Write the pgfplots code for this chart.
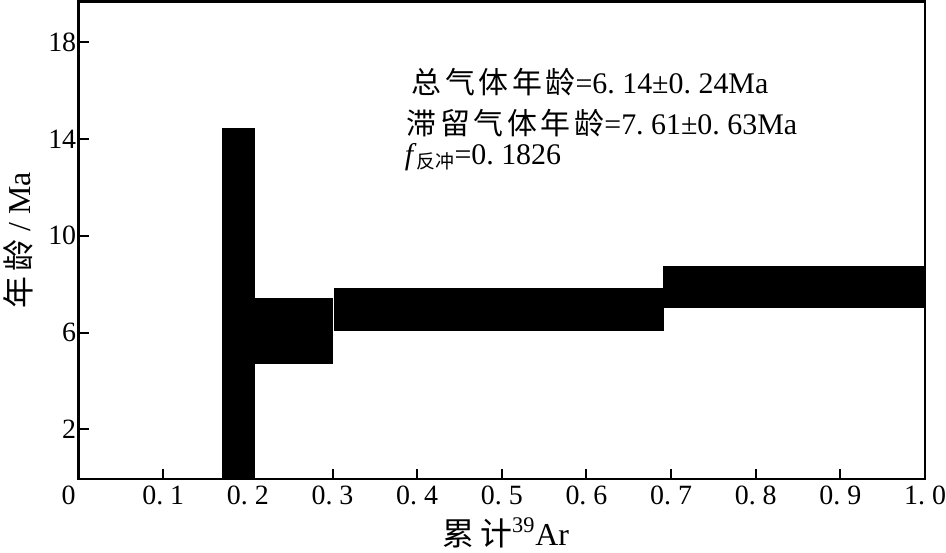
\documentclass[border=0pt]{standalone}
\usepackage{fontspec}
\setmainfont{Liberation Serif}
\newfontfamily\cjk{Noto Sans CJK SC}
\newfontfamily\cjkw[LetterSpace=12]{Noto Sans CJK SC}
\usepackage{pgfplots}
\pgfplotsset{compat=1.18}

\begin{document}
\begin{tikzpicture}
\begin{axis}[
  scale only axis,
  width=424.5pt, height=239.5pt,
  xmin=0, xmax=1, ymin=-0.05, ymax=19.7,
  axis line style={line width=1.3pt},
  tick style={line width=1pt, black},
  major tick length=5pt,
  tick align=inside,
  tick pos=left,
  xtick={0,0.1,...,1.0},
  xticklabels={\llap{0\hspace{1.5pt}},0.\ 1,0.\ 2,0.\ 3,0.\ 4,0.\ 5,0.\ 6,0.\ 7,0.\ 8,0.\ 9,1.\ 0},
  ytick={2,6,10,14,18},
  yticklabels={2,6,10,14,18},
  ticklabel style={font=\fontsize{14}{16}\selectfont},
  xticklabel style={inner xsep=0pt},
  yticklabel style={inner xsep=1pt},
  xlabel={{\cjk 累\,计}\textsuperscript{39}Ar},
  xlabel style={font=\fontsize{16}{19}\selectfont, inner xsep=0pt, inner ysep=2.5pt, at={(axis description cs:0.505,-0.113)}, anchor=center},
  ylabel={{\cjk 年\,龄}\ /\ Ma},
  ylabel style={font=\fontsize{16}{19}\selectfont, inner xsep=0pt, inner ysep=2pt, at={(axis description cs:-0.0707,0.5)}, anchor=center},
  clip=true,
]
% step rectangles: cumulative 39Ar fraction vs apparent age (Ma)
\addplot[fill=black, draw=none] coordinates {(0.170,-0.2) (0.2085,-0.2) (0.2085,14.48) (0.170,14.48)} -- cycle;
\addplot[fill=black, draw=none] coordinates {(0.2085,4.69) (0.300,4.69) (0.300,7.42) (0.2085,7.42)} -- cycle;
\addplot[fill=black, draw=none] coordinates {(0.3015,6.08) (0.692,6.08) (0.692,7.85) (0.3015,7.85)} -- cycle;
\addplot[fill=black, draw=none] coordinates {(0.6906,7.01) (1.0,7.01) (1.0,8.77) (0.6906,8.77)} -- cycle;

\node[anchor=west, inner sep=0pt, font=\fontsize{15}{17}\selectfont] at (axis cs:0.393,16.37)
  {{\cjkw 总气体年龄}=6.\ 14±0.\ 24Ma};
\node[anchor=west, inner sep=0pt, font=\fontsize{15}{17}\selectfont] at (axis cs:0.3875,14.67)
  {{\cjkw 滞留气体年龄}=7.\ 61±0.\ 63Ma};
\node[anchor=west, inner sep=0pt, font=\fontsize{15}{17}\selectfont] at (axis cs:0.385,13.27)
  {\textit{f}\raisebox{-0.35ex}{\cjk\fontsize{9.5}{10}\selectfont 反冲}=0.\ 1826};
\end{axis}
\end{tikzpicture}
\end{document}
